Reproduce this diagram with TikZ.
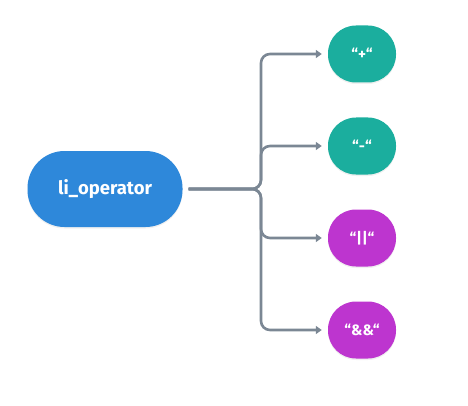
\documentclass[tikz,border=0pt]{standalone}
\usepackage{fontspec}
\setmainfont{Fira Sans}
\usetikzlibrary{arrows.meta,shadows}

\definecolor{opblue}{HTML}{2E88DA}
\definecolor{opteal}{HTML}{1BAE9E}
\definecolor{oppurple}{HTML}{BD35CF}
\definecolor{opgray}{HTML}{7B8794}

\tikzset{
  opshadow/.style={drop shadow={opacity=0.12, shadow xshift=0pt, shadow yshift=-1.5pt}},
  rootbox/.style={fill=opblue, text=white, opshadow, font=\bfseries\fontsize{18.5}{20}\selectfont,
    minimum width=155pt, minimum height=76pt, rounded corners=37pt},
  leafbox/.style={text=white, opshadow, font=\bfseries\fontsize{15}{17}\selectfont,
    minimum width=68pt, minimum height=57pt, rounded corners=28pt},
  conn/.style={draw=opgray, line width=2.6pt, rounded corners=9pt,
    -{Triangle[length=6pt,width=8pt]}, shorten <=6pt, shorten >=6pt}
}

\begin{document}
\begin{tikzpicture}[x=1pt,y=1pt]
  \useasboundingbox (0,0) rectangle (468,405);
  \node[rootbox] (op) at (105,216) {li\_operator};
  \coordinate (trunk) at (261,216);
  \foreach[count=\i] \y/\col/\txt in {351/opteal/{“+“}, 259/opteal/{“-“}, 167/oppurple/{“||“}, 75/oppurple/{“\&\&“}} {
    \node[leafbox, fill=\col] (c\i) at (362,\y) {\txt};
    \draw[conn] (op.east) -- (trunk) |- (c\i.west);
  }
\end{tikzpicture}
\end{document}
